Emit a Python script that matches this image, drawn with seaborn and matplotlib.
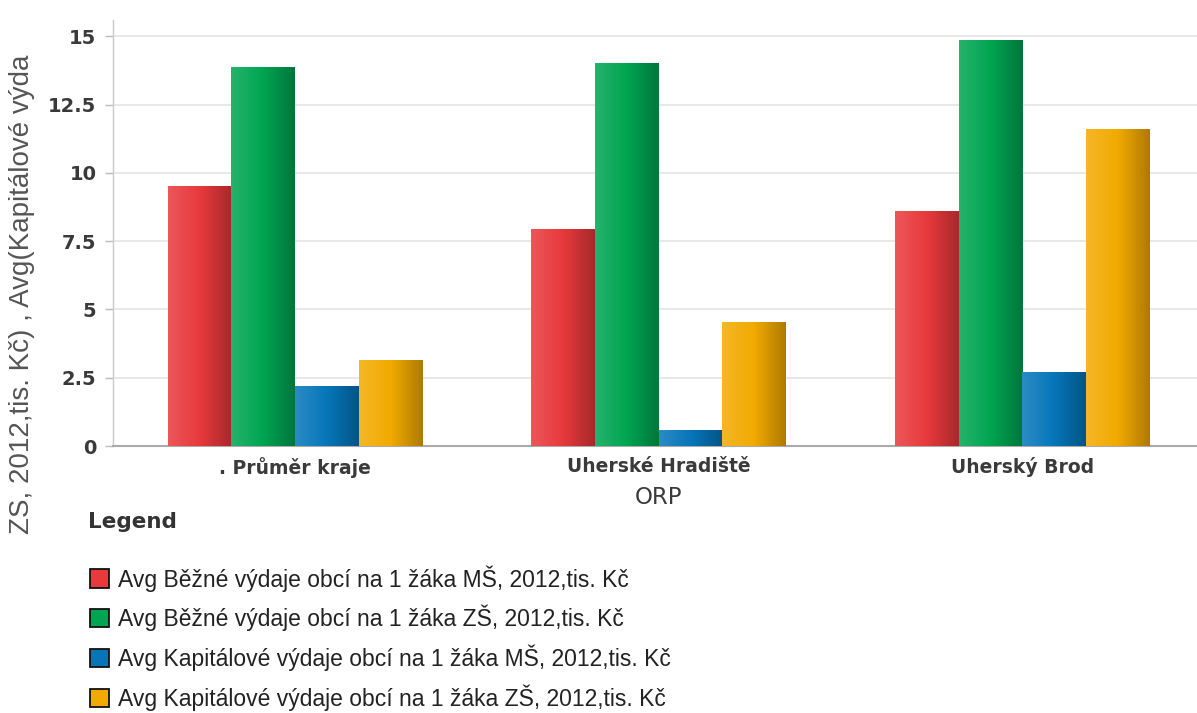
import numpy as np
import pandas as pd
import matplotlib
matplotlib.use("Agg")
import matplotlib.pyplot as plt
import matplotlib.colors as mcolors
from matplotlib.patches import Patch
import seaborn as sns

categories = [". Průměr kraje", "Uherské Hradiště", "Uherský Brod"]
series_names = [
    "Avg Běžné výdaje obcí na 1 žáka MŠ, 2012,tis. Kč",
    "Avg Běžné výdaje obcí na 1 žáka ZŠ, 2012,tis. Kč",
    "Avg Kapitálové výdaje obcí na 1 žáka MŠ, 2012,tis. Kč",
    "Avg Kapitálové výdaje obcí na 1 žáka ZŠ, 2012,tis. Kč",
]
bezne_ms = [9.51, 7.94, 8.60]
bezne_zs = [13.87, 14.01, 14.86]
kapital_ms = [2.20, 0.59, 2.71]
kapital_zs = [3.15, 4.54, 11.60]
ytick_values = [0, 2.5, 5, 7.5, 10, 12.5, 15]
ytick_labels = ["0", "2.5", "5", "7.5", "10", "12.5", "15"]
colors = ["#e8393c", "#00a551", "#0676b9", "#f2aa00"]

rows = []
for name, vals in zip(series_names, [bezne_ms, bezne_zs, kapital_ms, kapital_zs]):
    for c, v in zip(categories, vals):
        rows.append({"ORP": c, "series": name, "value": v})
df = pd.DataFrame(rows)

sns.set_theme(style="white")
plt.rcParams["font.family"] = ["DejaVu Sans"]

fig = plt.figure(figsize=(11.97, 7.13), dpi=100)
ax = fig.add_axes([113 / 1197, 1 - 446 / 713, 1 - 113 / 1197, (446 - 20) / 713])

sns.barplot(data=df, x="ORP", y="value", hue="series", order=categories,
            hue_order=series_names, palette=colors, width=0.7, gap=0,
            saturation=1, linewidth=0, ax=ax, legend=False, zorder=2)

# gradient shading on bars
for patch in list(ax.patches):
    fc = patch.get_facecolor()
    x0, y0 = patch.get_x(), patch.get_y()
    w, h = patch.get_width(), patch.get_height()
    if h <= 0:
        continue
    base = np.array(mcolors.to_rgb(fc))
    light = np.clip(base + (1 - base) * 0.15, 0, 1)
    dark = base * 0.72
    cmap = mcolors.LinearSegmentedColormap.from_list("g", [light, base, dark])
    grad = np.linspace(0, 1, 64).reshape(1, -1)
    im = ax.imshow(grad, cmap=cmap, extent=[x0, x0 + w, y0, y0 + h],
                   aspect="auto", zorder=3, interpolation="bicubic")
    im.set_clip_path(patch)
ax.set_xlim(-0.5, 2.48)
ax.set_ylim(0, 15.6)

ax.set_yticks(ytick_values)
ax.set_yticklabels(ytick_labels, fontsize=14, fontweight="bold", color="#3a3a3a")
ax.yaxis.grid(True, color="#e8e8e8", linewidth=1.5, zorder=0)
ax.set_axisbelow(True)
ax.tick_params(axis="y", length=6, width=1, color="#bbbbbb", pad=6, left=True)
ax.tick_params(axis="x", length=0, pad=8)
for lab in ax.get_xticklabels():
    lab.set_fontsize(13.5)
    lab.set_fontweight("bold")
    lab.set_color("#3a3a3a")

for s in ["top", "right"]:
    ax.spines[s].set_visible(False)
ax.spines["left"].set_color("#c8c8c8")
ax.spines["left"].set_linewidth(1)
ax.spines["bottom"].set_color("#aaaaaa")
ax.spines["bottom"].set_linewidth(1.5)

ax.set_xlabel("")
ax.set_ylabel("")
fig.text(658 / 1197, 1 - 497 / 713, "ORP", fontsize=16.5, color="#3a3a3a",
         ha="center", va="center")

fig.text(22 / 1197, 1 - 534 / 713, "ZS, 2012,tis. Kč) , Avg(Kapitálové výda",
         rotation=90, fontsize=20, color="#555555", ha="center", va="bottom",
         family=["Liberation Sans", "DejaVu Sans"])

fig.text(88 / 1197, 1 - 522 / 713, "Legend", fontsize=15.5, fontweight="bold",
         color="#333333", ha="left", va="center")

handles = [Patch(facecolor=c, edgecolor="#111111", linewidth=1.3) for c in colors]
leg = fig.legend(handles, series_names, loc="upper left",
                 bbox_to_anchor=(90 / 1197, 1 - 565 / 713), frameon=False,
                 prop={"family": ["Liberation Sans", "DejaVu Sans"], "size": 16.5},
                 labelspacing=0.58, handlelength=0.85, handleheight=0.85,
                 handletextpad=0.35, borderpad=0, borderaxespad=0)
for t in leg.get_texts():
    t.set_color("#222222")

fig.savefig("out.png", dpi=100)
